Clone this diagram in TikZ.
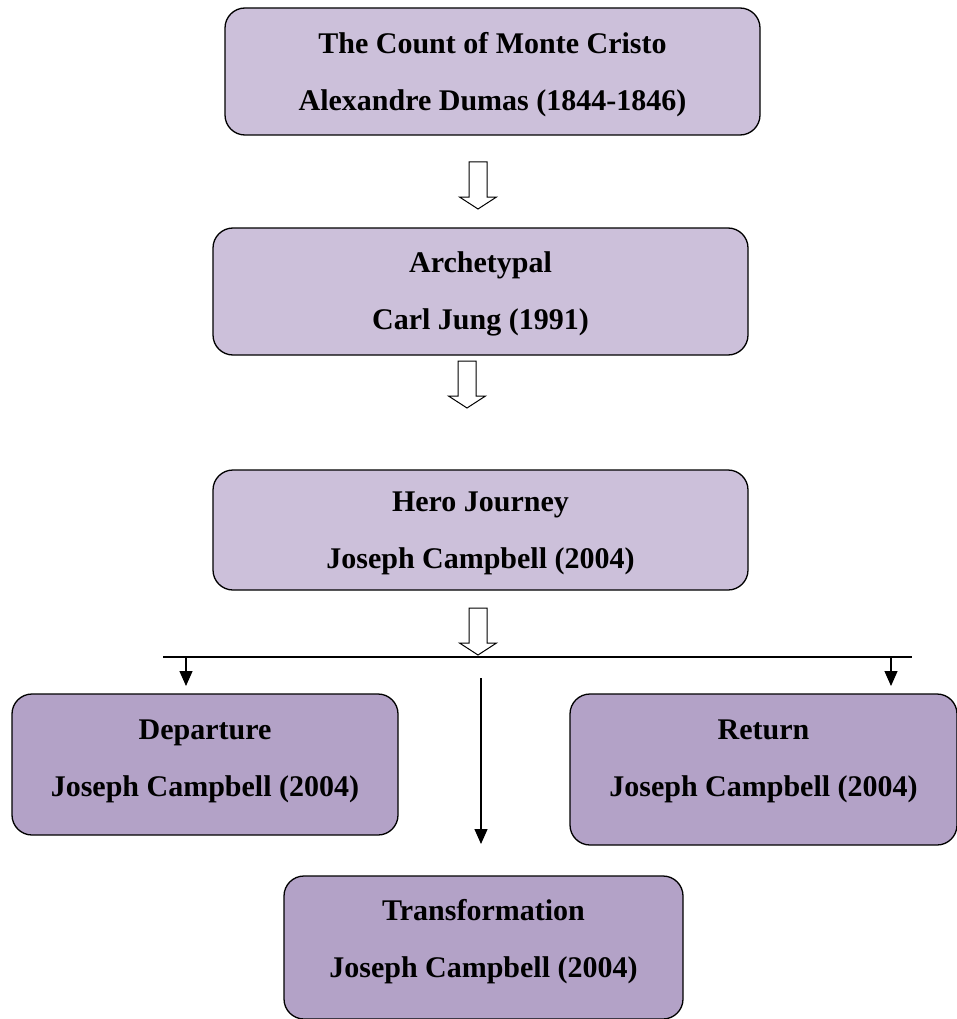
\documentclass[tikz,border=0pt]{standalone}
\usepackage{fontspec}
\setmainfont{Liberation Serif}
\usetikzlibrary{arrows.meta}

\definecolor{lightlav}{HTML}{CCC0DA}
\definecolor{darklav}{HTML}{B3A2C7}

\begin{document}
\begin{tikzpicture}[
  x=1pt, y=-1pt,
  box/.style={draw, line width=1.3pt, rounded corners=20pt, align=center,
    font=\fontsize{30}{57}\selectfont\bfseries, inner sep=0pt},
  topbox/.style={box, fill=lightlav},
  subbox/.style={box, fill=darklav},
  hollowdown/.pic={
    \draw[line width=1pt, fill=white] (-9,-23) -- (9,-23) -- (9,12) -- (18.5,12)
      -- (0,24) -- (-18.5,12) -- (-9,12) -- cycle;
  },
  link/.style={line width=1.3pt, -{Triangle[width=13pt,length=15pt]}},
]
\useasboundingbox (0,0) rectangle (957,1019);

\node[topbox, minimum width=535pt, minimum height=127pt, text depth=0pt] (count) at (492.5,71.5)
  {The Count of Monte Cristo\\Alexandre Dumas (1844-1846)};
\node[topbox, minimum width=535pt, minimum height=127pt, text depth=2pt] (arche) at (480.5,291.5)
  {Archetypal\\Carl Jung (1991)};
\node[topbox, minimum width=535pt, minimum height=120pt, text depth=0pt] (hero) at (480.5,530)
  {Hero Journey\\Joseph Campbell (2004)};

\node[subbox, minimum width=386pt, minimum height=141pt, text depth=12pt] (depart) at (205,764.5)
  {Departure\\Joseph Campbell (2004)};
\node[subbox, minimum width=387pt, minimum height=151pt, text depth=22pt] (return) at (763.5,769.5)
  {Return\\Joseph Campbell (2004)};
\node[subbox, minimum width=399pt, minimum height=143pt, text depth=18pt] (trans) at (483.5,947.5)
  {Transformation\\Joseph Campbell (2004)};

% hollow arrows between the boxes
\pic at (478,185) {hollowdown};
\pic at (467,384) {hollowdown};
\pic at (478,631) {hollowdown};

% branching line
\coordinate (bl) at (163,657);
\coordinate (br) at (912,657);
\draw[line width=1.3pt] (bl) -- (br);
\coordinate (dtop) at (186,657);
\coordinate (rtop) at (891,657);
\coordinate (ttop) at (481,678);
\draw[link] (dtop) -- (186,686);
\draw[link] (rtop) -- (891,686);
\draw[link] (ttop) -- (481,844);

\end{tikzpicture}
\end{document}
